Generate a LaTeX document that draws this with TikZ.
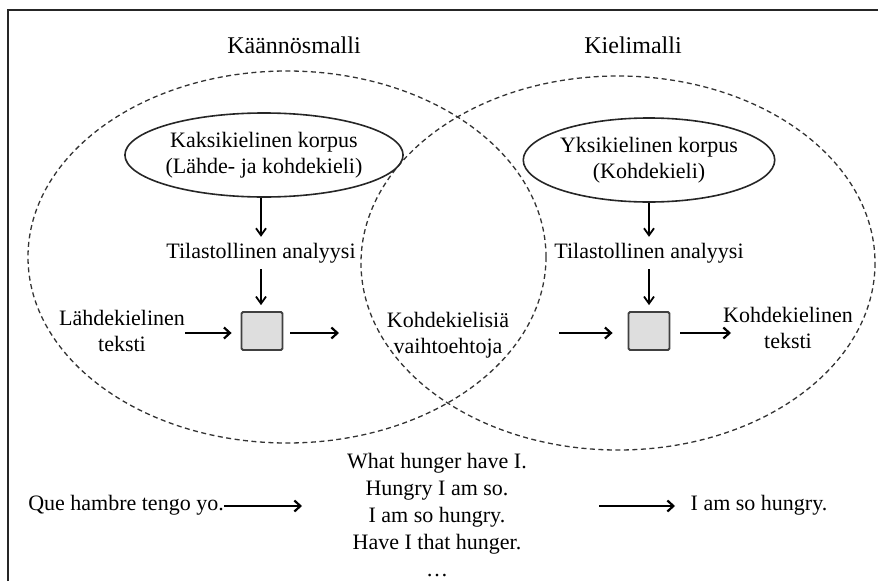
\documentclass[tikz,border=0pt]{standalone}
\usepackage{fontspec}
\setmainfont{Liberation Serif}
\usetikzlibrary{arrows.meta,shapes.geometric}
\begin{document}
\begin{tikzpicture}[x=1pt,y=-1pt,
  txt/.style={font=\fontsize{22}{26}\selectfont, inner sep=6pt, align=center},
  ttl/.style={font=\fontsize{24}{28}\selectfont, inner sep=0pt},
  corpus/.style={ellipse, draw=black!85, line width=1.6pt, minimum width=#1, minimum height=84pt, inner sep=0pt, align=center, font=\fontsize{22}{26}\selectfont},
  procbox/.style={draw=black!75, fill=black!13, line width=1.8pt, rounded corners=1.5pt, minimum width=41pt, minimum height=38pt, inner sep=0pt},
  region/.style={draw=black!80, line width=1.3pt, dash pattern=on 5pt off 3.5pt},
  arr/.style={line width=2.4pt, -{Straight Barb[length=6pt,width=11pt,line width=2.2pt]}},
  varr/.style={line width=1.8pt, -{Straight Barb[length=7pt,width=10pt,line width=1.8pt]}},
  frame/.style={line width=2.5pt, black!85}
]
\useasboundingbox (0,0) rectangle (878,581);
% frame
\draw[frame] (8,581) -- (8,10) -- (878,10);

% titles
\node[ttl] (t1) at (294,45) {Käännösmalli};
\node[ttl] (t2) at (633,45) {Kielimalli};

% dashed regions
\draw[region] (287,257) ellipse [x radius=259, y radius=186];
\draw[region] (618,263) ellipse [x radius=257, y radius=187];

% corpora
\node[corpus=234pt] (c1) at (264,155) {Kaksikielinen korpus\\(Lähde- ja kohdekieli)};
\node[corpus=239pt] (c2) at (649,160) {Yksikielinen korpus\\(Kohdekieli)};

% analyses
\node[txt] (a1) at (261,253) {Tilastollinen analyysi};
\node[txt] (a2) at (649,253) {Tilastollinen analyysi};

% boxes
\node[procbox] (b1) at (262,331) {};
\node[procbox] (b2) at (649,331) {};

% texts
\node[txt, inner sep=0pt] (src) at (122,331) {Lähdekielinen\\teksti};
\node[txt, inner sep=0pt] (alt) at (448,335) {Kohdekielisiä\\vaihtoehtoja};
\node[txt, inner sep=0pt] (tgt) at (788,328) {Kohdekielinen\\teksti};

\coordinate (m1) at (339,333);
\coordinate (m2) at (559,333);
\coordinate (m3) at (731,333);

% vertical arrows
\draw[varr] (c1.south -| a1.north) -- (a1.north);
\draw[varr] (a1.south) -- ([yshift=6pt]b1.north -| a1.south);
\draw[varr] (c2.south -| a2.north) -- (a2.north);
\draw[varr] (a2.south) -- ([yshift=6pt]b2.north -| a2.south);

% horizontal arrows
\draw[arr] (src.east |- m1) -- ([xshift=-9pt]b1.west |- m1);
\draw[arr] ([xshift=7pt]b1.east |- m1) -- (m1);
\draw[arr] (m2) -- ([xshift=-15pt]b2.west |- m2);
\draw[arr] ([xshift=10pt]b2.east |- m3) -- (m3);

% bottom example
\node[txt, inner sep=0pt] (q) at (126,505) {Que hambre tengo yo.};
\node[txt, inner sep=0pt, font=\fontsize{22}{27}\selectfont] (w) at (437,515) {What hunger have I.\\Hungry I am so.\\I am so hungry.\\Have I that hunger.\\\ldots};
\node[txt, inner sep=0pt] (h) at (759,505) {I am so hungry.};
\coordinate (e1) at (302,506);
\coordinate (e2) at (599,506);
\coordinate (e3) at (675,506);
\draw[arr] (q.east |- e1) -- (e1);
\draw[arr] (e2) -- (e3);
\end{tikzpicture}
\end{document}
